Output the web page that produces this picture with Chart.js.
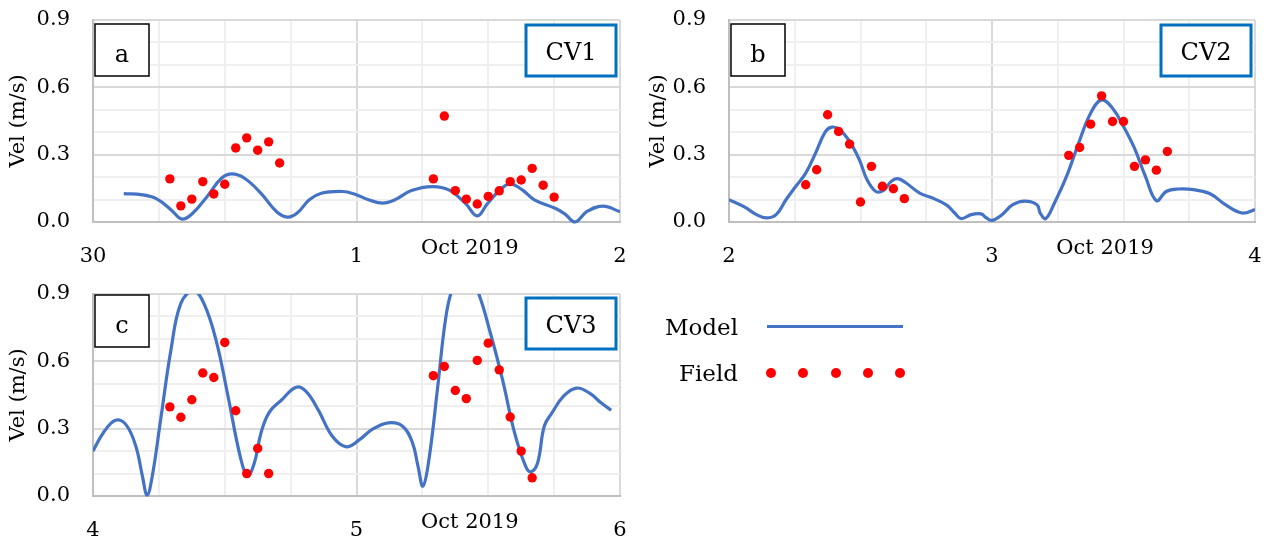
<!DOCTYPE html>
<html><head><meta charset="utf-8">
<script src="https://cdn.jsdelivr.net/npm/chart.js@4.4.0/dist/chart.umd.min.js"></script>
<style>
html,body{margin:0;padding:0;background:#fff;width:1266px;height:540px;overflow:hidden;position:relative;}
canvas{position:absolute;}
.leg{position:absolute;font-family:'DejaVu Serif';font-size:23px;line-height:26px;color:#000;text-align:right;width:100px;}
.dot{position:absolute;width:10px;height:10px;border-radius:50%;background:#ff0000;}
</style></head><body>
<canvas id="ca" width="640" height="270" style="left:0;top:0"></canvas>
<canvas id="cb" width="626" height="270" style="left:640px;top:0"></canvas>
<canvas id="cc" width="640" height="270" style="left:0;top:270px"></canvas>
<div class="leg" style="left:638px;top:314px">Model</div>
<div style="position:absolute;left:767px;top:325px;width:136px;height:3px;background:#4472c4"></div>
<div class="leg" style="left:638px;top:360px">Field</div>
<div class="dot" style="left:766px;top:368px"></div>
<div class="dot" style="left:798px;top:368px"></div>
<div class="dot" style="left:831px;top:368px"></div>
<div class="dot" style="left:863px;top:368px"></div>
<div class="dot" style="left:895px;top:368px"></div>
<script>
// ---- data (time in hours from the start of each panel's first day) ----
const xTicksA = ['30', '1', '2'];
const xTicksB = ['2', '3', '4'];
const xTicksC = ['4', '5', '6'];
const monthLabel = 'Oct 2019';
const panelLetters = ['a', 'b', 'c'];
const panelNames = ['CV1', 'CV2', 'CV3'];

const modelA_t = [2.8, 4.5, 5.8, 7.1, 8.1, 9.1, 10.4, 11.7, 12.65, 13.8, 15.3, 16.7, 17.7, 18.6, 19.7, 20.8, 22.7, 23.8, 25.1, 26.4, 27.5, 29.0, 30.9, 32.4, 33.9, 35.0, 35.9, 36.9, 37.95, 39.1, 40.2, 42.1, 43.0, 43.9, 45.0, 46.45, 48];
const modelA_v = [0.126, 0.121, 0.103, 0.055, 0.013, 0.04, 0.114, 0.195, 0.214, 0.195, 0.128, 0.047, 0.022, 0.04, 0.099, 0.128, 0.136, 0.125, 0.099, 0.084, 0.099, 0.14, 0.158, 0.143, 0.084, 0.027, 0.08, 0.135, 0.17, 0.143, 0.099, 0.061, 0.035, 0.0, 0.047, 0.071, 0.046];
const fieldA_t = [7, 8, 9, 10, 11, 12, 13, 14, 15, 16, 17, 31, 32, 33, 34, 35, 36, 37, 38, 39, 40, 41, 42];
const fieldA_v = [0.192, 0.072, 0.102, 0.18, 0.125, 0.168, 0.33, 0.375, 0.32, 0.357, 0.263, 0.192, 0.472, 0.14, 0.102, 0.08, 0.114, 0.139, 0.18, 0.187, 0.239, 0.164, 0.111];

const modelB_t = [0, 1.4, 2.5, 3.4, 4.3, 5.2, 6.1, 7.0, 7.9, 8.8, 9.4, 10.1, 11.0, 11.9, 12.6, 13.4, 14.1, 14.8, 15.4, 16.1, 17.4, 18.8, 19.9, 20.6, 21.2, 22.1, 23.0, 23.5, 24.0, 24.8, 25.9, 27.0, 28.1, 28.4, 28.9, 29.7, 30.8, 31.9, 33.0, 34.0, 35.0, 36.0, 37.0, 38.0, 39.0, 39.9, 41.0, 42.4, 43.9, 45.3, 46.8, 48];
const modelB_v = [0.099, 0.067, 0.033, 0.018, 0.033, 0.099, 0.159, 0.218, 0.307, 0.403, 0.423, 0.411, 0.359, 0.277, 0.188, 0.136, 0.141, 0.181, 0.193, 0.176, 0.129, 0.102, 0.074, 0.04, 0.015, 0.033, 0.036, 0.018, 0.007, 0.028, 0.077, 0.093, 0.077, 0.04, 0.015, 0.085, 0.203, 0.351, 0.485, 0.544, 0.507, 0.426, 0.329, 0.203, 0.095, 0.136, 0.147, 0.144, 0.126, 0.077, 0.04, 0.055];
const fieldB_t = [7, 8, 9, 10, 11, 12, 13, 14, 15, 16, 31, 32, 33, 34, 35, 36, 37, 38, 39, 40];
const fieldB_v = [0.166, 0.233, 0.478, 0.403, 0.347, 0.089, 0.248, 0.159, 0.148, 0.104, 0.297, 0.332, 0.436, 0.562, 0.448, 0.448, 0.248, 0.277, 0.231, 0.314];

const modelC_t = [0, 0.93, 2.05, 3.0, 3.9, 4.5, 4.93, 5.4, 6.16, 7.1, 8.0, 9.15, 10.1, 11.2, 12.3, 13.4, 14.07, 14.7, 15.3, 16.05, 17.2, 18.5, 19.4, 20.5, 21.8, 23.07, 24.3, 25.4, 26.9, 28.2, 29.1, 29.6, 30.05, 30.6, 31.4, 32.1, 32.7, 33.8, 35.0, 36.2, 37.3, 38.4, 39.4, 39.9, 40.5, 41.1, 41.8, 42.9, 44.05, 45.2, 46.3, 47.2];
const modelC_v = [0.2, 0.281, 0.337, 0.318, 0.222, 0.089, 0.004, 0.089, 0.34, 0.651, 0.858, 0.915, 0.858, 0.696, 0.444, 0.178, 0.089, 0.148, 0.281, 0.373, 0.429, 0.485, 0.466, 0.385, 0.266, 0.219, 0.252, 0.296, 0.326, 0.311, 0.237, 0.133, 0.044, 0.163, 0.488, 0.784, 0.918, 1.02, 0.918, 0.725, 0.518, 0.281, 0.133, 0.108, 0.148, 0.311, 0.37, 0.447, 0.481, 0.459, 0.414, 0.382];
const fieldC_t = [7, 8, 9, 10, 11, 12, 13, 14, 15, 16, 31, 32, 33, 34, 35, 36, 37, 38, 39, 40];
const fieldC_v = [0.397, 0.351, 0.429, 0.548, 0.528, 0.684, 0.38, 0.1, 0.212, 0.1, 0.536, 0.577, 0.47, 0.434, 0.604, 0.681, 0.562, 0.352, 0.2, 0.081];

// ---- drawing ----
const FONT = 'DejaVu Serif';
const decor = {
  id: 'decor',
  afterDraw(chart, args, o) {
    const {ctx, chartArea: a} = chart;
    ctx.save();
    ctx.fillStyle = '#fff'; ctx.strokeStyle = '#000'; ctx.lineWidth = 1.5;
    ctx.fillRect(a.left + 2, a.top + o.ly, 54, 52);
    ctx.strokeRect(a.left + 2, a.top + o.ly, 54, 52);
    ctx.fillStyle = '#000'; ctx.textAlign = 'center'; ctx.textBaseline = 'alphabetic';
    ctx.font = "24px '" + FONT + "'";
    ctx.fillText(o.letter, a.left + 29, a.top + o.ly + 38);
    const w = 90, h = 51, x = a.right - 4 - w, y = a.top + o.cy;
    ctx.fillStyle = '#fff'; ctx.fillRect(x, y, w, h);
    ctx.strokeStyle = '#0070c0'; ctx.lineWidth = 3; ctx.strokeRect(x, y, w, h);
    ctx.fillStyle = '#000';
    ctx.fillText(o.cv, x + w / 2, y + 35);
    ctx.font = "21px '" + FONT + "'";
    ctx.textBaseline = 'middle';
    ctx.fillText(monthLabel, a.left + 0.715 * (a.right - a.left), a.bottom + 27);
    ctx.restore();
  }
};

function makeChart(id, mt, mv, ft, fv, xl, letter, cv, layout) {
  const model = mt.map((t, i) => ({x: t, y: mv[i]}));
  const field = ft.map((t, i) => ({x: t, y: fv[i]}));
  return new Chart(document.getElementById(id), {
    type: 'line',
    data: {datasets: [
      {label: 'Field', data: field, showLine: false, pointRadius: 4.7, pointBackgroundColor: '#ff0000', pointBorderWidth: 0, pointHoverRadius: 0},
      {label: 'Model', data: model, borderColor: '#4472c4', borderWidth: 3.2, pointRadius: 0, tension: 0.4, fill: false, clip: {left: 0, top: 0, right: 0, bottom: 4}}
    ]},
    options: {
      responsive: false, animation: false, events: [],
      layout: {autoPadding: false, padding: {top: layout.top, right: layout.right, left: 0, bottom: 0}},
      plugins: {legend: {display: false}, tooltip: {enabled: false},
        decor: {letter: letter, cv: cv, ly: layout.ly, cy: layout.cy}},
      scales: {
        x: {type: 'linear', min: 0, max: 48,
          afterFit: s => { s.height = layout.xh; s.paddingLeft = 0; s.paddingRight = 0; s.paddingTop = 0; s.paddingBottom = 0; },
          afterBuildTicks: s => { s.ticks = [0, 6, 12, 18, 24, 30, 36, 42, 48].map(v => ({value: v})); },
          ticks: {autoSkip: false, maxRotation: 0, padding: 22, color: '#000', font: {family: FONT, size: 21},
            callback: v => (v % 24 === 0 ? xl[v / 24] : '')},
          grid: {drawTicks: false, color: c => (c.tick && c.tick.value % 24 === 0 ? '#d9d9d9' : '#efefef'), lineWidth: 2},
          border: {color: '#bfbfbf', width: 2}
        },
        y: {min: 0, max: 0.9,
          afterFit: s => { s.width = layout.yw; s.paddingLeft = 0; s.paddingRight = 0; s.paddingTop = 0; s.paddingBottom = 0; },
          afterBuildTicks: s => { s.ticks = [0, 1, 2, 3, 4, 5, 6, 7, 8, 9].map(v => ({value: v / 10})); },
          ticks: {autoSkip: false, padding: 23, color: '#000', font: {family: FONT, size: 21},
            callback: v => (Math.round(v * 10) % 3 === 0 ? v.toFixed(1) : '')},
          grid: {drawTicks: false, color: c => (c.tick && Math.round(c.tick.value * 10) % 3 === 0 ? '#d9d9d9' : '#efefef'), lineWidth: 2},
          border: {color: '#bfbfbf', width: 2},
          title: {display: true, text: 'Vel (m/s)', color: '#000', font: {family: FONT, size: 21}, padding: {top: 6, bottom: 0}}
        }
      }
    },
    plugins: [decor]
  });
}

makeChart('ca', modelA_t, modelA_v, fieldA_t, fieldA_v, xTicksA, panelLetters[0], panelNames[0], {top: 20, right: 20, xh: 48, yw: 93, ly: 4, cy: 5});
makeChart('cb', modelB_t, modelB_v, fieldB_t, fieldB_v, xTicksB, panelLetters[1], panelNames[1], {top: 20, right: 11, xh: 48, yw: 89, ly: 4, cy: 5});
makeChart('cc', modelC_t, modelC_v, fieldC_t, fieldC_v, xTicksC, panelLetters[2], panelNames[2], {top: 24, right: 20, xh: 44, yw: 93, ly: 1, cy: 4});
</script>
</body></html>
